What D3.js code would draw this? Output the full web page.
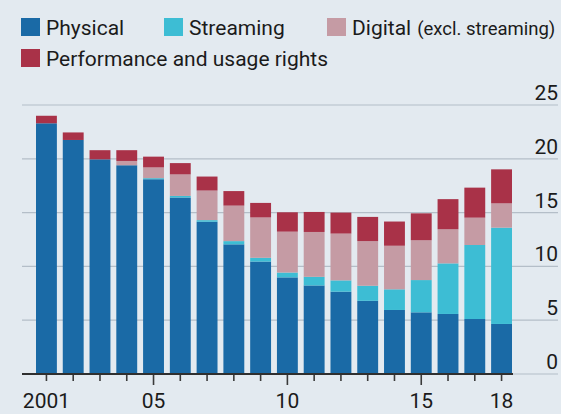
<!DOCTYPE html>
<html>
<head>
<meta charset="utf-8">
<script src="https://cdn.jsdelivr.net/npm/d3@7"></script>
<style>
  html, body { margin: 0; padding: 0; background: #e3eaf0; }
  svg { display: block; }
  text { font-family: Roboto, "Open Sans", sans-serif; fill: #1b1b1b; }
</style>
</head>
<body>
<svg id="chart" width="561" height="414"></svg>
<script>
// Global recorded-music revenues, $bn, by source
const years = [2001, 2002, 2003, 2004, 2005, 2006, 2007, 2008, 2009,
               2010, 2011, 2012, 2013, 2014, 2015, 2016, 2017, 2018];
const physical    = [23.3, 21.75, 19.95, 19.4, 18.1, 16.4, 14.15, 12.05, 10.45,
                     8.98, 8.23, 7.65, 6.8, 5.95, 5.73, 5.58, 5.11, 4.65];
const streaming   = [0, 0, 0, 0, 0.1, 0.15, 0.15, 0.3, 0.35,
                     0.45, 0.8, 1.05, 1.4, 1.92, 3.0, 4.7, 6.88, 8.95];
const digital     = [0, 0, 0, 0.4, 1.0, 2.0, 2.75, 3.3, 3.75,
                     3.8, 4.17, 4.35, 4.15, 4.05, 3.7, 3.17, 2.54, 2.26];
const performance = [0.7, 0.7, 0.85, 1.0, 1.0, 1.05, 1.3, 1.35, 1.35,
                     1.8, 1.86, 1.95, 2.25, 2.25, 2.5, 2.8, 2.79, 3.16];

const seriesKeys   = ["physical", "streaming", "digital", "performance"];
const seriesColors = ["#1a6aa6", "#3dbdd4", "#c59ba4", "#a93248"];
const yTicks = [0, 5, 10, 15, 20, 25];
const xTickLabels = { 2001: "2001", 2005: "05", 2010: "10", 2015: "15", 2018: "18" };

const rows = years.map((yr, i) => ({
  year: yr,
  physical: physical[i],
  streaming: streaming[i],
  digital: digital[i],
  performance: performance[i]
}));

const svg = d3.select("#chart");

const x = d3.scaleBand().domain(years).range([36, 512]).paddingInner(0.22).paddingOuter(0);
const y = d3.scaleLinear().domain([0, 25]).range([374, 105]);

// Horizontal gridlines with labels sitting above them on the right
const grid = svg.append("g");
grid.selectAll("line").data(yTicks).join("line")
  .attr("x1", 22).attr("x2", 558)
  .attr("y1", d => y(d)).attr("y2", d => y(d))
  .attr("stroke", "#b4bec8").attr("stroke-width", 1.2);
grid.selectAll("text").data(yTicks).join("text")
  .attr("x", 558).attr("y", d => y(d) - 5)
  .attr("text-anchor", "end")
  .attr("font-size", 21)
  .text(d => d);

// Stacked bars
const stack = d3.stack().keys(seriesKeys)(rows);
const color = d3.scaleOrdinal().domain(seriesKeys).range(seriesColors);
svg.append("g").selectAll("g").data(stack).join("g")
  .attr("fill", d => color(d.key))
  .selectAll("rect").data(d => d).join("rect")
    .attr("x", d => x(d.data.year))
    .attr("width", x.bandwidth())
    .attr("y", d => y(d[1]))
    .attr("height", d => Math.max(0, y(d[0]) - y(d[1])));

// Baseline and year ticks
const xAxis = d3.axisBottom(x)
  .tickSizeOuter(0)
  .tickSizeInner(7)
  .tickPadding(10)
  .tickFormat(d => xTickLabels[d] || "");
const gx = svg.append("g").attr("transform", `translate(0,${y(0)})`).call(xAxis);
gx.select(".domain").remove();
gx.selectAll(".tick line")
  .attr("stroke", "#3a3a3a").attr("stroke-width", 1.6)
  .attr("y2", d => (d % 5 === 0 ? 11 : 7));
gx.selectAll(".tick text")
  .attr("font-size", 21)
  .attr("fill", "#1b1b1b")
  .attr("dy", "0.71em")
  .attr("y", 19)
  .style("font-family", "Roboto, 'Open Sans', sans-serif");
svg.append("line")
  .attr("x1", 22).attr("x2", 513)
  .attr("y1", y(0)).attr("y2", y(0))
  .attr("stroke", "#2f2f2f").attr("stroke-width", 2);

// Legend
const legendItems = [
  { key: "physical", label: "Physical", x: 21, y: 18 },
  { key: "streaming", label: "Streaming", x: 164, y: 18 },
  { key: "digital", label: "Digital", note: "(excl. streaming)", x: 327, y: 18 },
  { key: "performance", label: "Performance and usage rights", x: 21, y: 49 }
];
const legend = svg.append("g");
const li = legend.selectAll("g").data(legendItems).join("g")
  .attr("transform", d => `translate(${d.x},${d.y})`);
li.append("rect")
  .attr("width", 19).attr("height", 18)
  .attr("fill", d => color(d.key));
const lt = li.append("text")
  .attr("x", 25).attr("y", 17)
  .attr("font-size", 21);
lt.append("tspan").text(d => d.label);
lt.filter(d => d.note).append("tspan")
  .attr("dx", 6)
  .attr("font-size", 18.5)
  .text(d => d.note);
</script>
</body>
</html>
